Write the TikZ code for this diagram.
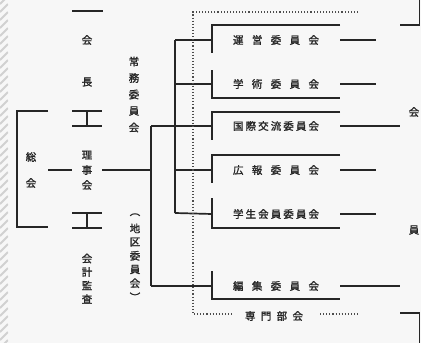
\documentclass[tikz,border=0pt]{standalone}
\usepackage{fontspec}
\newfontfamily\cjk[FakeBold=1.5]{Noto Sans CJK JP}
\newcommand\spreadtxt[2]{\makebox[#1][s]{#2}}
\begin{document}
\begin{tikzpicture}[x=1pt,y=-1pt,
  ln/.style={line width=1.7pt, black!85},
  dotln/.style={line width=1.1pt, dotted, black!70},
  ch/.style={font=\cjk\fontsize{10.5}{10.5}\selectfont, inner sep=0pt, text=black!85},
  vbox/.style={ch, minimum width=30pt, minimum height=10pt}]
\useasboundingbox (0,0) rectangle (421,343);
\fill[black!3] (0,0) rectangle (421,343);
% hatched strip at left
\begin{scope}
  \clip (0,0) rectangle (8,343);
  \foreach \i in {-12,-4,...,352} \draw[black!18, line width=2pt] (0,\i+8) -- (8,\i);
\end{scope}

% ---- general meeting (left bracket)
\draw[ln] (48,111) -- (17,111) -- (17,227) -- (48,227);
\node[ch] (so1) at (31,157) {総};
\node[ch] (so2) at (31,183) {会};

% ---- middle column
\draw[ln] (72,11) -- (103,11);
\node[ch] (top1) at (87,40) {会};
\node[ch] (top2) at (87,82) {長};
\draw[ln] (72,111) -- (102,111) (87,111) -- (87,126) (72,126) -- (102,126);
\node[ch] (ri1) at (87,155) {理};
\node[vbox] (rijikai) at (87,170) {事};
\node[ch] (ri3) at (87,185) {会};
\draw[ln] (72,213) -- (102,213) (87,213) -- (87,228) (72,228) -- (102,228);
\foreach \c [count=\k] in {会,計,監,査}
  \node[ch] (kk\k) at (87,245+13.5*\k) {\c};

% vertical labels
\foreach \c [count=\k] in {常,務,委,員,会}
  \node[ch] (jo\k) at (134,45+16.5*\k) {\c};
\foreach \c [count=\k] in {︵,地,区,委,員,会,︶}
  \node[ch] (ch\k) at (135,201+13.7*\k) {\c};

% ---- connectors
\coordinate (sokaiR) at (48,170);
\coordinate (jA) at (151,170);
\coordinate (a1) at (151,126);
\coordinate (a2) at (151,286);
\coordinate (b1) at (175,40);
\coordinate (b2) at (175,213);
\draw[ln] (sokaiR) -- (rijikai.west);
\draw[ln] (rijikai.east) -- (jA);
\draw[ln] (a1) -- (a2);
\draw[ln] (b1) -- (b2);

% ---- committee boxes
\foreach \n/\y/\t in {
  c1/40/{運\hfill 営\hfill 委\hfill 員\hfill 会},
  c2/84/{学\hfill 術\hfill 委\hfill 員\hfill 会},
  c3/126/{国\hfill 際\hfill 交\hfill 流\hfill 委\hfill 員\hfill 会},
  c4/170/{広\hfill 報\hfill 委\hfill 員\hfill 会},
  c5/214/{学\hfill 生\hfill 会\hfill 員\hfill 委\hfill 員\hfill 会},
  c6/286/{編\hfill 集\hfill 委\hfill 員\hfill 会}}
  \node[ch, minimum width=128pt, minimum height=10pt] (\n) at (276,\y) {\spreadtxt{86pt}{\t}};

% box outlines
\draw[ln] (340,25) -- (212,25) -- (212,53);
\draw[ln] (212,70) -- (212,98) -- (340,98);
\draw[ln] (340,112) -- (212,112) -- (212,140);
\draw[ln] (340,155) -- (212,155) -- (212,183);
\draw[ln] (212,198) -- (212,228) -- (340,228);
\draw[ln] (212,271) -- (212,299) -- (340,299);

% stubs from trunks
\draw[ln] (b1) -- (c1.west);
\draw[ln] (175,84) -- (c2.west);
\draw[ln] (a1) -- (c3.west);
\draw[ln] (175,170) -- (c4.west);
\draw[ln] (b2) -- (c5.west);
\draw[ln] (a2) -- (c6.west);

% right stubs
\coordinate (r1) at (376,40);
\coordinate (r2) at (376,84);
\coordinate (r3) at (400,126);
\coordinate (r4) at (376,170);
\coordinate (r5) at (376,214);
\coordinate (r6) at (400,286);
\draw[ln] (c1.east) -- (r1);
\draw[ln] (c2.east) -- (r2);
\draw[ln] (c3.east) -- (r3);
\draw[ln] (c4.east) -- (r4);
\draw[ln] (c5.east) -- (r5);
\draw[ln] (c6.east) -- (r6);

% dotted frame
\node[ch] (bumon) at (274,316) {\spreadtxt{58pt}{専\hfill 門\hfill 部\hfill 会}};
\draw[dotln] (358,12) -- (193,12) -- (193,314) -- (232,314);
\draw[dotln] (320,314) -- (358,314);

% right edge
\draw[ln] (400,25) -- (419.5,25) -- (419.5,0);
\draw[ln] (400,313) -- (419.5,313) -- (419.5,343);
\node[ch] (kai) at (414,112) {会};
\node[ch] (in) at (414,230) {員};
\end{tikzpicture}
\end{document}
